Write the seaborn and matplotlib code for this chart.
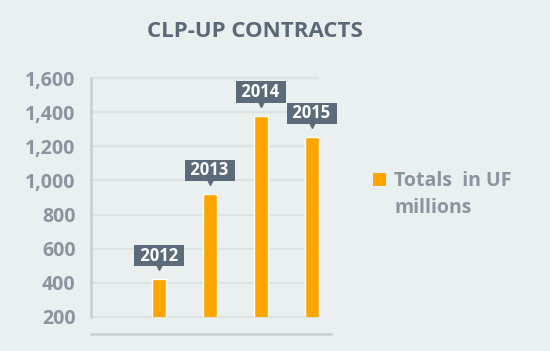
import matplotlib
matplotlib.use("Agg")
import matplotlib.pyplot as plt
import matplotlib.transforms as mtransforms
from matplotlib.patches import Rectangle
import seaborn as sns
import pandas as pd

# chart data
years = ["2012", "2013", "2014", "2015"]
totals = [420, 920, 1380, 1255]
yticks = [200, 400, 600, 800, 1000, 1200, 1400, 1600]
legend_lines = ["Totals  in UF", "millions"]
title = "CLP-UP CONTRACTS"

bg = "#eaf0f0"
orange = "#ffa500"
slate = "#5b6b7a"
grey_txt = "#8b95a0"
spine_col = "#c9cece"
grid_col = "#dde3e3"

sns.set_theme(style="white")
plt.rcParams["font.family"] = ["Open Sans", "DejaVu Sans"]

df = pd.DataFrame({"year": years, "total": totals})

fig = plt.figure(figsize=(5.5, 3.51), dpi=100, facecolor=bg)
ax = fig.add_axes([91 / 550, 1 - 317 / 351, (331 - 91) / 550, (317 - 78) / 351])
ax.set_facecolor(bg)

sns.barplot(data=df, x="year", y="total", color=orange, saturation=1,
            width=0.27, ax=ax, zorder=2)

ax.set_xlim(-1.33, 3.38)
ax.set_ylim(200, 1600)
ax.hlines(yticks, -1.33, 3.14, color=grid_col, lw=1.6, zorder=0, clip_on=False)

ax.set_yticks(yticks)
ax.set_yticklabels([f"{v:,}" for v in yticks], fontsize=14, fontweight="bold", color=grey_txt)
ax.tick_params(axis="y", direction="in", length=7, width=1.6, color=spine_col, pad=11)
ax.tick_params(axis="x", bottom=False, labelbottom=False)
ax.set_xlabel("")
ax.set_ylabel("")

for s in ["top", "right"]:
    ax.spines[s].set_visible(False)
ax.spines["left"].set_color(spine_col)
ax.spines["left"].set_linewidth(1.8)
ax.spines["bottom"].set_color(spine_col)
ax.spines["bottom"].set_linewidth(1.8)
ax.spines["bottom"].set_position(("outward", 12))

# year callouts above each bar
tri_tf = mtransforms.offset_copy(ax.transData, fig=fig, y=14, units="dots")
for bar, yr in zip(ax.patches, years):
    x = bar.get_x() + bar.get_width() / 2
    top = bar.get_height()
    ax.plot(x, top, marker="v", ms=7, color=slate, transform=tri_tf,
            clip_on=False, zorder=3)
    ax.annotate(f" {yr} ", xy=(x, top), xytext=(0, 17), textcoords="offset points",
                ha="center", va="center", color="white", fontsize=12,
                fontweight="bold", zorder=4,
                bbox=dict(boxstyle="square,pad=0.1", fc=slate, ec="none"))

fig.text(255 / 550, 1 - 37 / 351, title, ha="center", va="baseline",
         fontsize=16, fontweight="bold", color="#5b6878")

# legend
fig.add_artist(Rectangle((373 / 550, 1 - 186 / 351), 13 / 550, 13 / 351,
                         transform=fig.transFigure, fc=orange, ec="none"))
fig.text(394 / 550, 1 - 186 / 351, legend_lines[0], va="baseline",
         fontsize=14, fontweight="bold", color=grey_txt)
fig.text(394 / 550, 1 - 213 / 351, legend_lines[1], va="baseline",
         fontsize=14, fontweight="bold", color=grey_txt)

fig.savefig("out.png", dpi=100, facecolor=bg)
